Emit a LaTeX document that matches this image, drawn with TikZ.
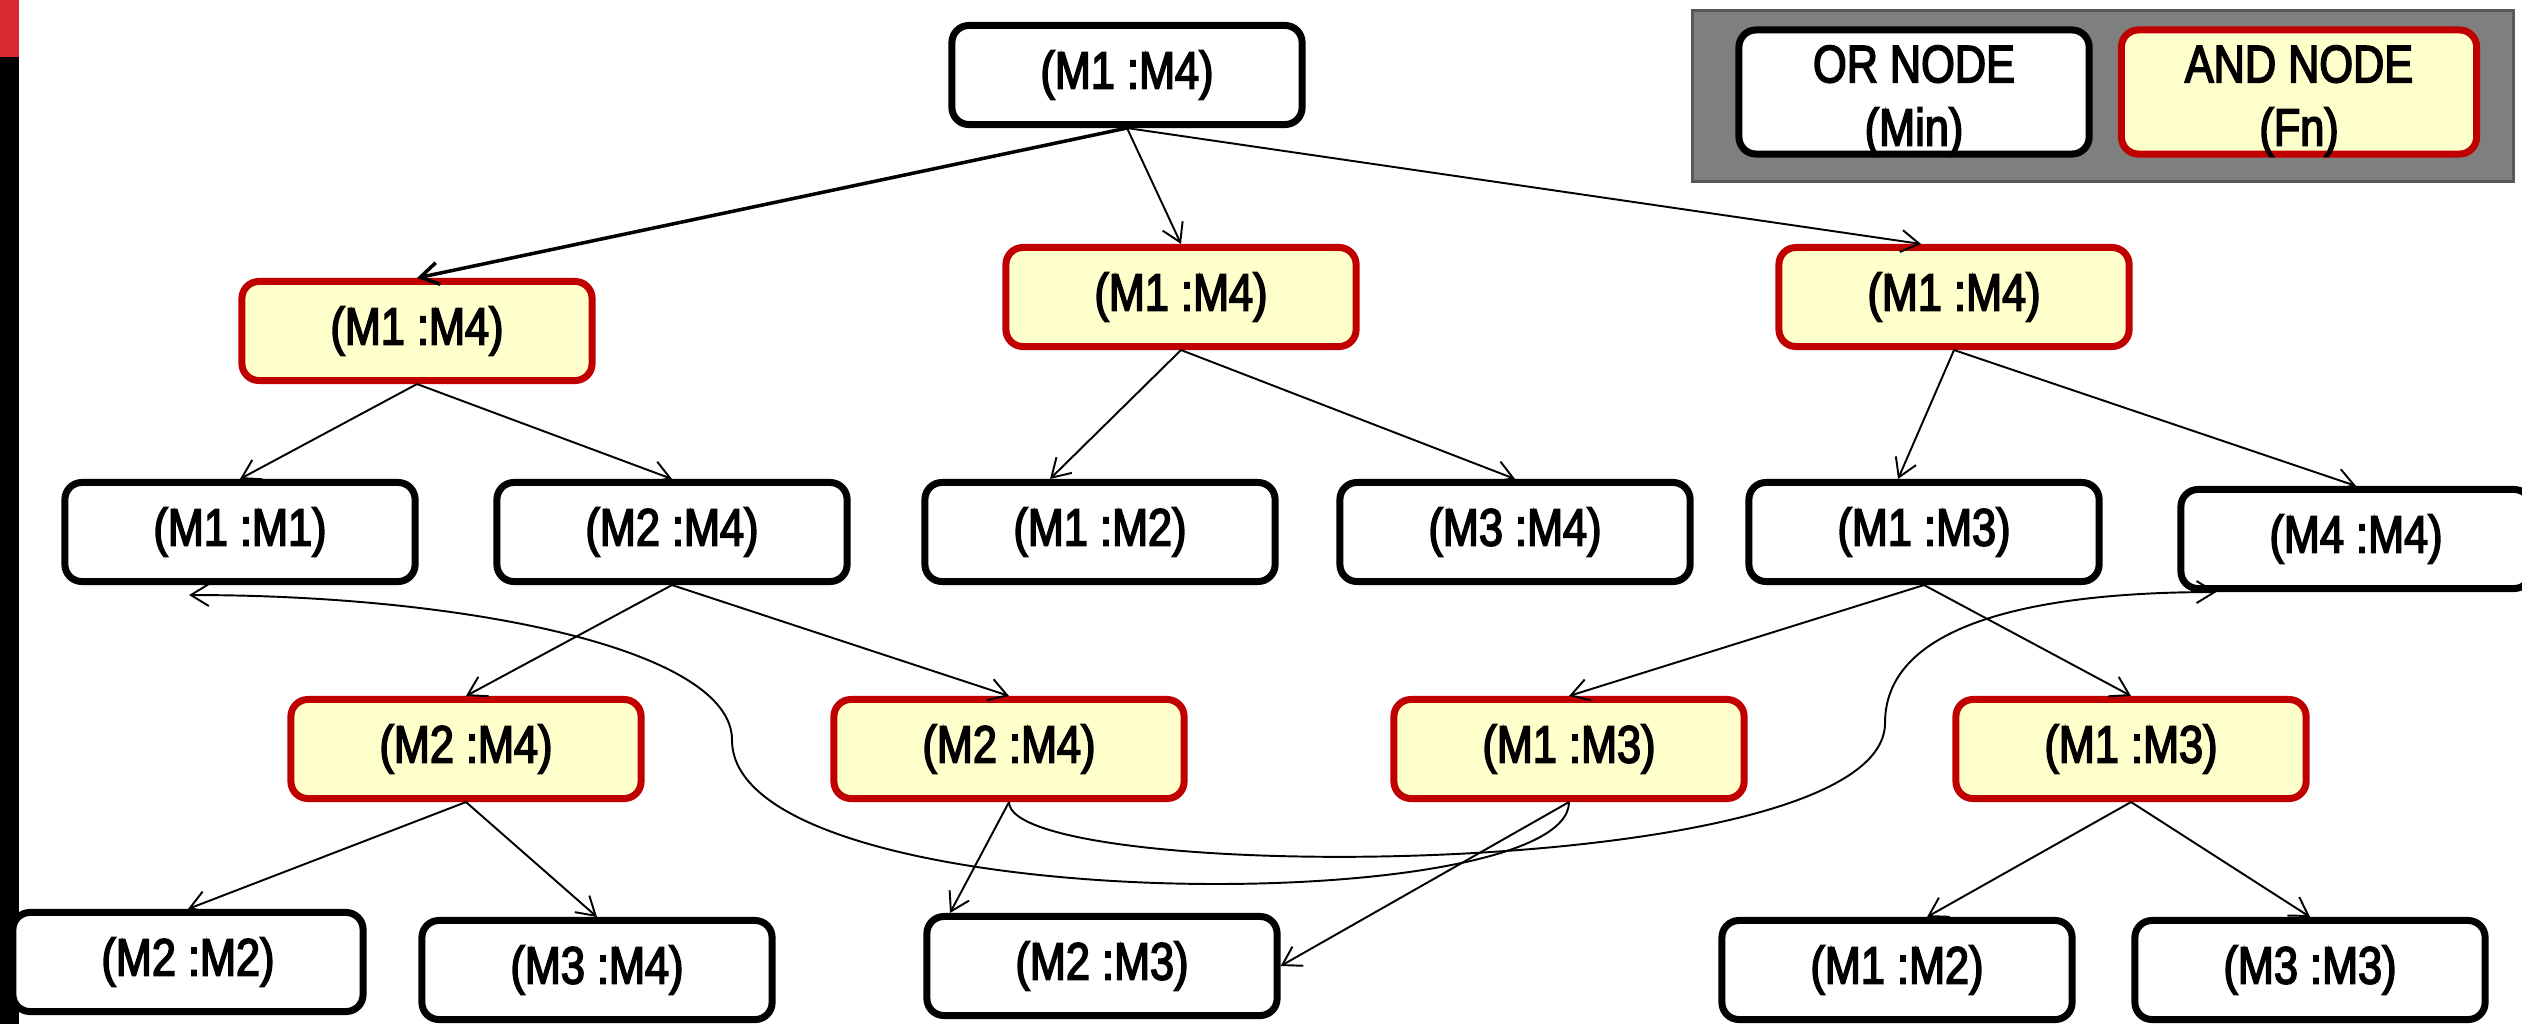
\documentclass[tikz,border=0pt]{standalone}
\usepackage{fontspec}
\setmainfont{Liberation Sans}[FakeStretch=0.82, FakeBold=3]
\usetikzlibrary{arrows.meta, calc}

\definecolor{andred}{RGB}{192,0,0}
\definecolor{andfill}{RGB}{255,255,204}
\definecolor{keygray}{RGB}{127,127,127}
\definecolor{keyedge}{RGB}{89,89,89}
\definecolor{barred}{RGB}{214,42,48}

\begin{document}
\begin{tikzpicture}[
    x=0.01cm, y=-0.01cm,
    ornode/.style={draw=black, fill=white, line width=0.07cm, rounded corners=0.17cm, minimum width=3.5cm, minimum height=0.99cm, inner sep=0pt, font=\fontsize{15}{18}\selectfont},
    andnode/.style={ornode, draw=andred, fill=andfill},
    keytext/.style={align=center, inner sep=0pt, font=\fontsize{15}{18}\selectfont},
    arrow/.style={-{Straight Barb[length=0.18cm, width=0.22cm]}, line width=0.55pt}
]
\useasboundingbox (0,0) rectangle (2522,1024);

% side bar
\fill[barred] (0,0) rectangle (19,57);
\fill[black] (0,57) rectangle (19,1024);

% key
\node[draw=keyedge, fill=keygray, line width=0.03cm, minimum width=8.2cm, minimum height=1.7cm] (key) at (2103,96) {};
\node[ornode, minimum width=3.5cm, minimum height=1.24cm] (orkey) at (1914,92) {};
\node[andnode, minimum width=3.55cm, minimum height=1.24cm] (andkey) at (2299,92) {};
\node[keytext] (ortext) at ($(orkey)+(0,9)$) {OR NODE\\(Min)};
\node[keytext] (andtext) at ($(andkey)+(0,9)$) {AND NODE\\(Fn)};

% level 0
\node[ornode] (root) at (1127,75) {(M1 :M4)};

% level 1
\node[andnode] (and1) at (417,331) {(M1 :M4)};
\node[andnode] (and2) at (1181,297) {(M1 :M4)};
\node[andnode] (and3) at (1954,297) {(M1 :M4)};

% level 2
\node[ornode] (or1) at (240,532) {(M1 :M1)};
\node[ornode] (or2) at (672,532) {(M2 :M4)};
\node[ornode] (or3) at (1100,532) {(M1 :M2)};
\node[ornode] (or4) at (1515,532) {(M3 :M4)};
\node[ornode] (or5) at (1924,532) {(M1 :M3)};
\node[ornode] (or6) at (2356,539) {(M4 :M4)};

% level 3
\node[andnode] (and4) at (466,749) {(M2 :M4)};
\node[andnode] (and5) at (1009,749) {(M2 :M4)};
\node[andnode] (and6) at (1569,749) {(M1 :M3)};
\node[andnode] (and7) at (2131,749) {(M1 :M3)};

% level 4
\node[ornode] (or7) at (188,962) {(M2 :M2)};
\node[ornode] (or8) at (597,970) {(M3 :M4)};
\node[ornode] (or9) at (1102,966) {(M2 :M3)};
\node[ornode] (or10) at (1897,970) {(M1 :M2)};
\node[ornode] (or11) at (2310,970) {(M3 :M3)};

% edges
\draw[arrow, line width=1pt] (root.south) -- (and1.north);
\draw[arrow] (root.south) -- (and2.north);
\draw[arrow] (root.south) -- ($(and3.north)+(-33,0)$);

\draw[arrow] (and1.south) -- (or1.north);
\draw[arrow] (and1.south) -- (or2.north);
\draw[arrow] (and2.south) -- ($(or3.north)+(-50,0)$);
\draw[arrow] (and2.south) -- (or4.north);
\draw[arrow] (and3.south) -- ($(or5.north)+(-26,0)$);
\draw[arrow] (and3.south) -- (or6.north);

\draw[arrow] (or2.south) -- (and4.north);
\draw[arrow] (or2.south) -- (and5.north);
\draw[arrow] (or5.south) -- (and6.north);
\draw[arrow] (or5.south) -- (and7.north);

\draw[arrow] (and4.south) -- (or7.north);
\draw[arrow] (and4.south) -- (or8.north);
\draw[arrow] (and5.south) -- ($(or9.north)+(-152,0)$);
\draw[arrow] (and6.south) -- (or9.east);
\draw[arrow] (and7.south) -- ($(or10.north)+(30,0)$);
\draw[arrow] (and7.south) -- (or11.north);

% shared sub-problems
\draw[arrow] (and5.south) .. controls +(0,83) and +(0,162) .. (1885,723)
    .. controls +(0,-103) and +(-170,0) .. ($(or6.south west)+(39,0)$);
\draw[arrow] (and6.south) .. controls +(0,118) and +(0,180) .. (732,740)
    .. controls +(0,-90) and +(280,0) .. ($(or1.south)+(-51,10)$);

\end{tikzpicture}
\end{document}
